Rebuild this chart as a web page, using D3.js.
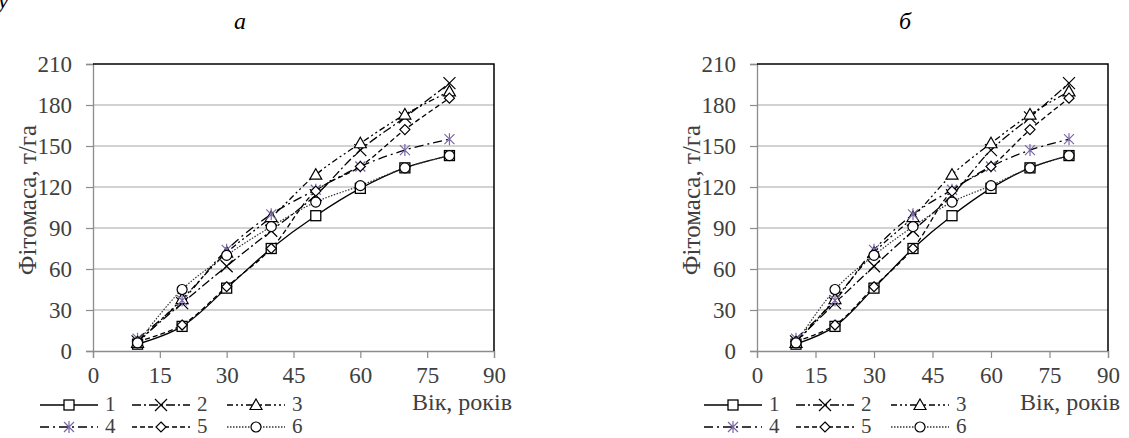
<!DOCTYPE html>
<html><head><meta charset="utf-8">
<script src="https://cdn.jsdelivr.net/npm/d3@7"></script>
<style>body{margin:0;background:#fff}svg{display:block}text{font-family:"Liberation Serif","Times New Roman",serif}</style>
</head><body><svg id="c" width="1129" height="438"></svg>
<script>
const ages = [10, 20, 30, 40, 50, 60, 70, 80];
const s1 = [5, 18, 46, 75, 99, 119, 134, 143];
const s2 = [7, 35, 62, 88, 114, 147, 171, 196];
const s3 = [6, 38, 72, 98, 129, 152, 173, 190];
const s4 = [9, 37, 74, 100, 118, 135, 147, 155];
const s5 = [7, 19, 47, 75, 117, 135, 162, 185];
const s6 = [6, 45, 70, 91, 109, 121, 134, 143];
const seriesNames = ["1", "2", "3", "4", "5", "6"];
const xTicks = [0, 15, 30, 45, 60, 75, 90];
const yTicks = [0, 30, 60, 90, 120, 150, 180, 210];
const panelTitles = ["а", "б"];
const yTitle = "Фітомаса, т/га";
const xTitle = "Вік, років";

const series = [s1, s2, s3, s4, s5, s6];
const styles = [
  {dash: null, marker: "square", color: "#000"},
  {dash: "9,3,2,3", marker: "x", color: "#000"},
  {dash: "6,3,2,3,2,3", marker: "triangle", color: "#000"},
  {dash: "9,4,2,4", marker: "asterisk", color: "#000", mcolor: "#7a67a8"},
  {dash: "5,3", marker: "diamond", color: "#000"},
  {dash: "1.5,1.5", marker: "circle", color: "#333"}
];

const svg = d3.select("#c");

function drawMarker(g, type, x, y, col) {
  const c = col || "#000";
  if (type === "square") g.append("rect").attr("x", x-5).attr("y", y-5).attr("width", 10).attr("height", 10).attr("fill", "#fff").attr("stroke", c).attr("stroke-width", 1.3);
  else if (type === "circle") g.append("circle").attr("cx", x).attr("cy", y).attr("r", 5).attr("fill", "#fff").attr("stroke", c).attr("stroke-width", 1.2);
  else if (type === "triangle") g.append("path").attr("d", `M${x},${y-6}L${x+6},${y+4.5}L${x-6},${y+4.5}Z`).attr("fill", "#fff").attr("stroke", c).attr("stroke-width", 1.2);
  else if (type === "diamond") g.append("path").attr("d", `M${x},${y-5}L${x+5},${y}L${x},${y+5}L${x-5},${y}Z`).attr("fill", "#fff").attr("stroke", c).attr("stroke-width", 1.2);
  else if (type === "x") g.append("path").attr("d", `M${x-6},${y-6}L${x+6},${y+6}M${x+6},${y-6}L${x-6},${y+6}`).attr("stroke", c).attr("stroke-width", 1.2).attr("fill", "none");
  else if (type === "asterisk") g.append("path").attr("d", `M${x-5},${y-5}L${x+5},${y+5}M${x+5},${y-5}L${x-5},${y+5}M${x},${y-6}L${x},${y+6}`).attr("stroke", c).attr("stroke-width", 1.2).attr("fill", "none");
}

function drawPanel(p) {
  const g = svg.append("g");
  const x = d3.scaleLinear().domain([0, 90]).range([p.x0, p.x1]);
  const y = d3.scaleLinear().domain([0, 210]).range([351, 64]);

  g.append("text").attr("x", p.tx).attr("y", 29).attr("text-anchor", "middle").attr("font-size", 24).attr("font-style", "italic").text(p.title);

  g.append("g").selectAll("line").data(yTicks.filter(d => d > 0 && d < 210)).join("line")
    .attr("x1", p.x0).attr("x2", p.x1).attr("y1", d => y(d)).attr("y2", d => y(d))
    .attr("stroke", "#a6a6a6").attr("stroke-width", 1.2);

  const ya = g.append("g").attr("transform", `translate(${p.x0},0)`)
    .call(d3.axisLeft(y).tickValues(yTicks).tickSize(7).tickPadding(14));
  ya.select(".domain").attr("stroke", "#8c8c8c").attr("stroke-width", 1.3);
  ya.selectAll(".tick line").attr("stroke", "#8c8c8c").attr("stroke-width", 1.2);
  ya.selectAll("text").attr("font-size", 23).attr("fill", "#404040").attr("font-family", "Liberation Serif");

  const xa = g.append("g").attr("transform", `translate(0,351)`)
    .call(d3.axisBottom(x).tickValues(xTicks).tickSize(7).tickPadding(9));
  xa.select(".domain").attr("stroke", "#8c8c8c").attr("stroke-width", 1.3);
  xa.selectAll(".tick line").attr("stroke", "#8c8c8c").attr("stroke-width", 1.2);
  xa.selectAll("text").attr("font-size", 23).attr("fill", "#404040").attr("font-family", "Liberation Serif");

  g.append("path").attr("d", `M${p.x0},${y(210)}H${p.x1}V${y(0)}`).attr("fill", "none").attr("stroke", "#000").attr("stroke-width", 1.5);

  const line = d3.line().x((d, i) => x(ages[i])).y(d => y(d)).curve(d3.curveCatmullRom.alpha(0.5));
  series.forEach((s, k) => {
    g.append("path").attr("d", line(s)).attr("fill", "none").attr("stroke", styles[k].color)
      .attr("stroke-width", k === 5 ? 1.2 : 1.3).attr("stroke-dasharray", styles[k].dash);
  });
  series.forEach((s, k) => {
    s.forEach((v, i) => drawMarker(g, styles[k].marker, x(ages[i]), y(v), styles[k].mcolor));
  });

  g.append("text").attr("transform", `translate(${p.yl},200) rotate(-90)`).attr("text-anchor", "middle")
    .attr("font-size", 25).attr("fill", "#404040").text(yTitle);
  g.append("text").attr("x", p.xl).attr("y", 410).attr("font-size", 24).attr("fill", "#404040").text(xTitle);

  const cols = [p.lx, p.lx + 92, p.lx + 187];
  seriesNames.forEach((nm, k) => {
    const cx = cols[k % 3], cy = k < 3 ? 405 : 427;
    const lg = g.append("g");
    lg.append("line").attr("x1", cx).attr("x2", cx + 58).attr("y1", cy).attr("y2", cy)
      .attr("stroke", styles[k].color).attr("stroke-width", 1.3).attr("stroke-dasharray", styles[k].dash);
    drawMarker(lg, styles[k].marker, cx + 29, cy, styles[k].mcolor);
    lg.append("text").attr("x", cx + 65).attr("y", cy + 6).attr("font-size", 21).attr("fill", "#404040").text(nm);
  });
}

drawPanel({x0: 93, x1: 494, title: panelTitles[0], tx: 240, yl: 36, xl: 412, lx: 40});
drawPanel({x0: 757, x1: 1108, title: panelTitles[1], tx: 905, yl: 700, xl: 1020, lx: 704});

svg.append("text").attr("x", -2).attr("y", 8).attr("font-size", 24).attr("font-style", "italic").text("у");
</script></body></html>
